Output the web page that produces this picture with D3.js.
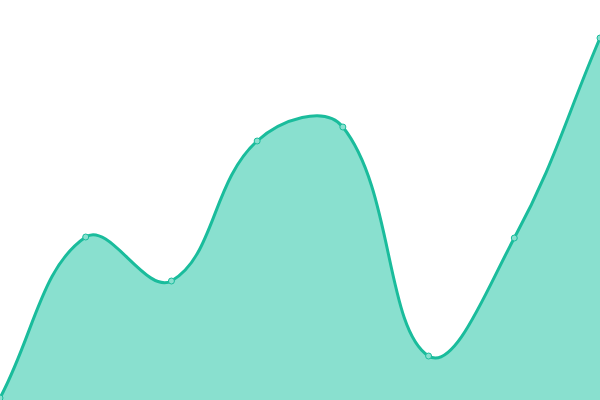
<!DOCTYPE html>
<html>
<head>
<meta charset="utf-8">
<script src="https://cdn.jsdelivr.net/npm/d3@7"></script>
<style>
  html, body { margin: 0; padding: 0; background: #fff; }
  svg { display: block; }
</style>
</head>
<body>
<svg id="chart" width="600" height="400"></svg>
<script>
const categories = ["A", "B", "C", "D", "E", "F", "G", "H"];
const values = [0.5, 40.75, 29.75, 64.75, 68.25, 11, 40.5, 90.5];

const width = 600;
const height = 400;
const tension = 0.4;
const svg = d3.select("#chart");

const x = d3.scalePoint().domain(categories).range([0, width]);
const y = d3.scaleLinear().domain([0, 100]).range([height, 0]);

const data = categories.map((c, i) => ({ c, v: values[i] }));

// spline with distance-weighted tangents, built as a d3 curve factory
function Spline(context) {
  this._context = context;
}
Spline.prototype = {
  areaStart() { this._line = 0; },
  areaEnd() { this._line = NaN; },
  lineStart() { this._pts = []; },
  point(px, py) { this._pts.push([+px, +py]); },
  lineEnd() {
    const p = this._pts, n = p.length, ctx = this._context;
    if (n) {
      if (this._line) ctx.lineTo(p[0][0], p[0][1]);
      else ctx.moveTo(p[0][0], p[0][1]);
    }
    const cp = p.map((cur, i) => {
      const prev = p[i - 1] || cur, next = p[i + 1] || cur;
      const d01 = Math.hypot(cur[0] - prev[0], cur[1] - prev[1]);
      const d12 = Math.hypot(next[0] - cur[0], next[1] - cur[1]);
      let s01 = d01 / (d01 + d12), s12 = d12 / (d01 + d12);
      if (isNaN(s01)) s01 = 0;
      if (isNaN(s12)) s12 = 0;
      const fa = tension * s01, fb = tension * s12;
      const clampY = (v) => Math.max(0, Math.min(height, v));
      return {
        bx: cur[0] - fa * (next[0] - prev[0]),
        by: clampY(cur[1] - fa * (next[1] - prev[1])),
        ax: cur[0] + fb * (next[0] - prev[0]),
        ay: clampY(cur[1] + fb * (next[1] - prev[1]))
      };
    });
    for (let i = 1; i < n; i++) {
      ctx.bezierCurveTo(cp[i - 1].ax, cp[i - 1].ay, cp[i].bx, cp[i].by, p[i][0], p[i][1]);
    }
    if (this._line || (this._line !== 0 && n === 1)) ctx.closePath();
    this._line = 1 - this._line;
  }
};
const curveSpline = (context) => new Spline(context);

const area = d3
  .area()
  .x((d) => x(d.c))
  .y0(height)
  .y1((d) => y(d.v))
  .curve(curveSpline);

const line = d3
  .line()
  .x((d) => x(d.c))
  .y((d) => y(d.v))
  .curve(curveSpline);

svg.append("path")
  .attr("d", area(data))
  .style("fill", "#89e0cf");

svg.append("path")
  .attr("d", line(data))
  .style("fill", "none")
  .style("stroke", "#1abc9c")
  .style("stroke-width", 3);

svg.append("g")
  .selectAll("circle")
  .data(data)
  .enter()
  .append("circle")
  .attr("cx", (d) => x(d.c))
  .attr("cy", (d) => y(d.v))
  .attr("r", 3)
  .style("fill", "#89e0cf")
  .style("stroke", "#1abc9c")
  .style("stroke-width", 1);
</script>
</body>
</html>
